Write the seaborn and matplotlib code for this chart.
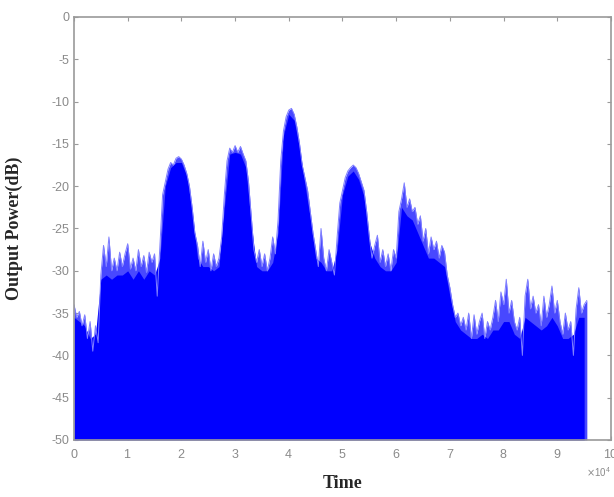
import numpy as np
import pandas as pd
import seaborn as sns
import matplotlib.pyplot as plt
from matplotlib.ticker import ScalarFormatter

# upper envelope of the output power, one value every 500 time units (0 .. 95500)
peak_step = 500
peak_db = [
    -34.0, -35.5, -34.8, -36.5, -35.2, -38.0, -36.0, -39.5, -36.5, -38.5,
    -30.5, -27.0, -29.5, -26.0, -30.0, -28.5, -30.0, -27.8, -29.5, -28.0,
    -26.8, -29.8, -28.5, -30.0, -27.5, -29.5, -28.2, -30.2, -27.8, -29.0,
    -28.0, -33.0, -27.0, -21.0, -19.5, -18.0, -17.2, -17.5, -16.7, -16.5,
    -16.8, -17.5, -18.5, -20.0, -22.5, -25.5, -27.0, -29.5, -26.5, -29.0,
    -27.5, -30.0, -28.0, -29.5, -28.5, -26.0, -21.0, -17.0, -15.5, -16.0,
    -15.2, -16.0, -15.3, -16.2, -17.0, -19.5, -23.5, -27.5, -29.0, -27.5,
    -29.5, -28.0, -30.0, -28.5, -26.0, -28.0, -24.0, -17.0, -13.5, -11.8,
    -11.0, -10.8, -11.5, -13.0, -15.0, -17.5, -19.0, -20.5, -23.0, -25.5,
    -27.5, -29.5, -25.0, -28.5, -30.0, -27.5, -29.0, -30.5, -26.0, -22.0,
    -20.5, -19.0, -18.2, -17.8, -17.5, -17.8, -18.5, -19.5, -20.5, -23.0,
    -26.0, -28.5, -27.0, -25.8, -29.0, -27.5, -29.5, -28.0, -30.0, -27.5,
    -28.5, -23.0, -21.5, -19.6, -22.5, -21.5, -23.0, -22.5, -24.5, -23.5,
    -26.5, -25.0, -28.0, -26.0, -27.5, -26.5, -28.5, -27.0, -27.8, -30.5,
    -32.0, -34.0, -35.5, -35.0, -36.5, -35.5, -37.0, -35.0, -38.0, -35.2,
    -37.5, -36.0, -35.0, -38.0, -36.0, -37.0, -35.5, -33.5, -36.0, -32.5,
    -34.0, -31.0, -35.0, -33.5, -36.0, -37.0, -35.5, -40.0, -33.0, -31.0,
    -34.5, -33.0, -35.0, -34.0, -36.5, -33.0, -35.5, -34.0, -31.8, -35.0,
    -33.5, -36.0, -37.5, -35.0, -37.0, -36.0, -40.0, -34.5, -32.0, -35.0,
    -34.0, -33.5,
]

# dense (solid) part of the trace, one value every 1000 time units (0 .. 95000)
core_step = 1000
core_db = [
    -35.5, -36.0, -36.5, -38.0, -37.5, -31.0, -30.5, -31.0, -30.5, -30.5,
    -30.0, -31.0, -30.0, -31.0, -30.0, -30.5, -28.5, -20.0, -17.8, -17.2,
    -17.2, -18.8, -23.0, -28.5, -29.5, -29.5, -30.0, -29.5, -22.5, -16.2,
    -16.0, -16.2, -17.8, -24.5, -29.5, -30.0, -30.0, -29.0, -25.5, -14.0,
    -11.5, -12.2, -15.5, -19.8, -23.8, -28.5, -29.0, -30.0, -30.0, -27.5,
    -21.0, -18.8, -18.2, -19.2, -21.2, -26.5, -28.5, -29.5, -30.0, -30.0,
    -29.0, -22.5, -23.5, -24.0, -25.5, -27.0, -28.5, -28.5, -29.0, -29.5,
    -33.0, -36.0, -37.0, -37.5, -38.0, -38.0, -37.5, -38.0, -37.0, -37.0,
    -36.0, -36.0, -37.5, -38.0, -35.5, -36.0, -36.5, -37.0, -36.5, -35.5,
    -36.5, -38.0, -38.0, -37.5, -35.5, -35.5,
]

y_ticks = [-50, -45, -40, -35, -30, -25, -20, -15, -10, -5, 0]
x_ticks = [0, 10000, 20000, 30000, 40000, 50000, 60000, 70000, 80000, 90000, 100000]

peak = pd.DataFrame({"time": np.arange(len(peak_db)) * peak_step, "power": peak_db})
core = pd.DataFrame({"time": np.arange(len(core_db)) * core_step, "power": core_db})

sns.set_style("ticks")
plt.rcParams["font.family"] = ["Liberation Sans", "DejaVu Sans"]
plt.rcParams["axes.unicode_minus"] = False

fig = plt.figure(figsize=(6.14, 4.97), dpi=100)
ax = fig.add_axes([0.1205, 0.1147, 0.8746, 0.8511])

# light spiky band, then the solid blue body on top
ax.fill_between(peak["time"], -50, peak["power"], color="#4848ff", lw=0)
sns.lineplot(data=peak, x="time", y="power", ax=ax, color="#8080ff", lw=0.7)
ax.fill_between(core["time"], -50, core["power"], color="#0000ff", lw=0)

ax.set_xlim(0, 100000)
ax.set_ylim(-50, 0)
ax.set_xticks(x_ticks)
ax.set_yticks(y_ticks)

fmt = ScalarFormatter(useMathText=True)
fmt.set_powerlimits((4, 4))
ax.xaxis.set_major_formatter(fmt)
ax.xaxis.get_offset_text().set_fontsize(7)
ax.xaxis.get_offset_text().set_color("#8a8a8a")

grey = "#9a9a9a"
for s in ax.spines.values():
    s.set_color(grey)
    s.set_linewidth(1.2)
ax.tick_params(direction="in", top=True, right=True, length=3, color=grey,
               labelcolor="#8a8a8a", labelsize=9, width=0.8)
ax.tick_params(axis="x", pad=6)

ax.set_xlabel("Time", fontsize=13, fontweight="bold",
              family=["Liberation Serif", "DejaVu Serif"], labelpad=10)
ax.set_ylabel("Output Power(dB)", fontsize=13, fontweight="bold",
              family=["Liberation Serif", "DejaVu Serif"], labelpad=20)

fig.savefig("out.png", dpi=100)
